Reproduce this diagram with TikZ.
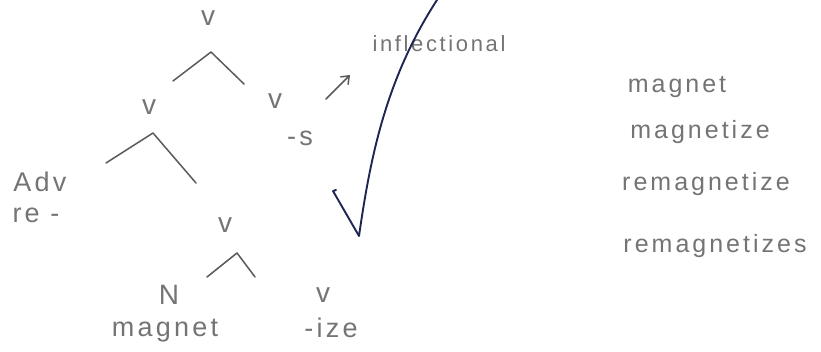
\documentclass[tikz,border=0pt]{standalone}
\usepackage{fontspec}
\setmainfont{Liberation Sans}
\usepackage{xcolor}
\definecolor{pencil}{HTML}{747474}
\definecolor{pencilDk}{HTML}{5A5A5A}
\definecolor{penInk}{HTML}{1F2552}
\usetikzlibrary{arrows.meta,positioning}
\tikzset{
  lab/.style={text=pencil,inner sep=0pt,
    font=\fontsize{27}{29}\selectfont\addfontfeatures{LetterSpace=12}},
  cat/.style={lab,font=\fontsize{28}{30}\selectfont},
  word/.style={lab,font=\fontsize{25}{27}\selectfont\addfontfeatures{LetterSpace=12}},
  note/.style={lab,font=\fontsize{22}{24}\selectfont\addfontfeatures{LetterSpace=12}},
  branch/.style={draw=pencilDk,line width=1.5pt,line join=round,line cap=round},
  tick/.style={draw=penInk,line width=1.9pt,line cap=round,line join=round}}

\begin{document}
\begin{tikzpicture}[x=1pt,y=-1pt]
  \useasboundingbox (0,0) rectangle (821,352);
  % tree
  \node[cat] (vtop) at (208,18) {v};
  \coordinate (h1) at (211,52);
  \coordinate (h1l) at (173,81);
  \coordinate (h1r) at (244,84);
  \draw[branch] (h1l) -- (h1) -- (h1r);
  \node[cat] (vl) at (149,107) {v};
  \node[cat] (vr) at (275,101) {v};
  \node[lab] (sfx) at (300,138) {-s};
  \coordinate (h2) at (153,133);
  \coordinate (h2l) at (106,163);
  \coordinate (h2r) at (196,183);
  \draw[branch] (h2l) -- (h2) -- (h2r);
  \node[lab] (adv) at (40,182) {Adv};
  \node[lab] (pre) at (36,215) {re -};
  \node[cat] (vm) at (225,225) {v};
  \coordinate (h3) at (237,253);
  \coordinate (h3l) at (207,277);
  \coordinate (h3r) at (255,277);
  \draw[branch] (h3l) -- (h3) -- (h3r);
  \node[cat] (n) at (169,295) {N};
  \node[lab] (base) at (165,331) {magnet};
  \node[cat] (vb) at (323,295) {v};
  \node[lab] (ize) at (331,328) {-ize};
  % inflection
  \coordinate (arr) at (326,99);
  \node[note] (infl) at (439,44) {inflectional};
  \draw[branch,-{Straight Barb[length=7pt,width=11pt]}] (arr) -- (350,75);
  \coordinate (ck0) at (333,191);
  \coordinate (ck1) at (359,236);
  \coordinate (ck2) at (437,0);
  \draw[tick] (ck0) -- ++(3,-1) (ck0) -- (ck1)
    .. controls (370,160) and (385,80) .. (ck2);
  % word list
  \node[word] (w1) at (677,87) {magnet};
  \node[word] (w2) at (700,132) {magnetize};
  \node[word] (w3) at (706,184) {remagnetize};
  \node[word] (w4) at (715,246) {remagnetizes};
\end{tikzpicture}
\end{document}
